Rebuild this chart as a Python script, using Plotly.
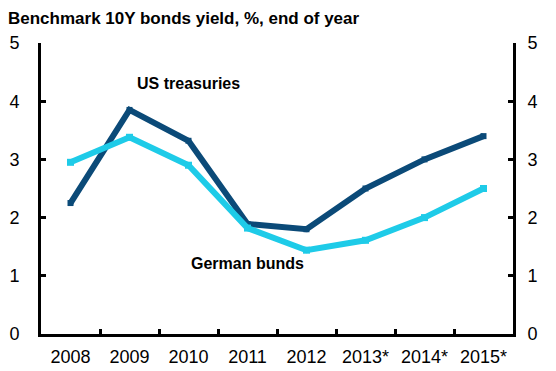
import plotly.graph_objects as go

years = ["2008", "2009", "2010", "2011", "2012", "2013*", "2014*", "2015*"]
us_treasuries = [2.25, 3.85, 3.32, 1.89, 1.80, 2.50, 3.00, 3.40]
german_bunds = [2.95, 3.38, 2.90, 1.82, 1.44, 1.61, 2.00, 2.50]
y_ticks = [0, 1, 2, 3, 4, 5]

US_COLOR = "#0B4A78"
DE_COLOR = "#1ECBE8"
FONT = "Liberation Sans, Arial, sans-serif"

xpos = list(range(len(years)))
boundaries = [i + 0.5 for i in xpos[:-1]]

fig = go.Figure()
fig.add_trace(go.Scatter(x=xpos, y=us_treasuries, mode="lines+markers",
                         line=dict(color=US_COLOR, width=6),
                         marker=dict(symbol="square", size=6, color=US_COLOR),
                         showlegend=False))
fig.add_trace(go.Scatter(x=xpos, y=german_bunds, mode="lines+markers",
                         line=dict(color=DE_COLOR, width=6),
                         marker=dict(symbol="square", size=7, color=DE_COLOR),
                         showlegend=False))
# Ghost trace so the right axis is drawn
fig.add_trace(go.Scatter(x=xpos, y=us_treasuries, yaxis="y2", mode="lines",
                         line=dict(width=0), hoverinfo="skip", showlegend=False,
                         opacity=0))

axis_common = dict(range=[0, 5], tickvals=y_ticks, ticks="inside", ticklen=5,
                   tickwidth=3, tickcolor="black", showline=True, linewidth=3,
                   linecolor="black", showgrid=False, zeroline=False,
                   automargin=False,
                   tickfont=dict(family=FONT, size=18, color="black"))

fig.update_layout(
    width=556, height=371,
    margin=dict(l=33, r=51, t=35, b=45),
    paper_bgcolor="white", plot_bgcolor="white",
    font=dict(family=FONT, color="black"),
    title=dict(text="<b>Benchmark 10Y bonds yield, %, end of year</b>",
               x=0, xanchor="left", y=0.973, yanchor="middle",
               font=dict(family=FONT, size=17, color="black")),
    xaxis=dict(range=[-0.5, len(years) - 0.5], tickvals=xpos, ticktext=years,
               ticks="", showline=True, linewidth=3, linecolor="black",
               showgrid=False, zeroline=False, tickangle=0, automargin=False,
               ticklabelstandoff=4,
               tickfont=dict(family=FONT, size=18, color="black"),
               minor=dict(tickvals=boundaries, ticks="inside", ticklen=5,
                          tickwidth=3, tickcolor="black", showgrid=False)),
    yaxis=dict(**axis_common, side="left", ticklabelstandoff=15),
    yaxis2=dict(**axis_common, side="right", overlaying="y", anchor="x",
                ticklabelstandoff=8),
)

fig.add_annotation(x=2, y=4.31, text="<b>US treasuries</b>", showarrow=False,
                   font=dict(family=FONT, size=16, color="black"))
fig.add_annotation(x=3, y=1.22, text="<b>German bunds</b>", showarrow=False,
                   font=dict(family=FONT, size=16, color="black"))

fig.write_html("out.html")
